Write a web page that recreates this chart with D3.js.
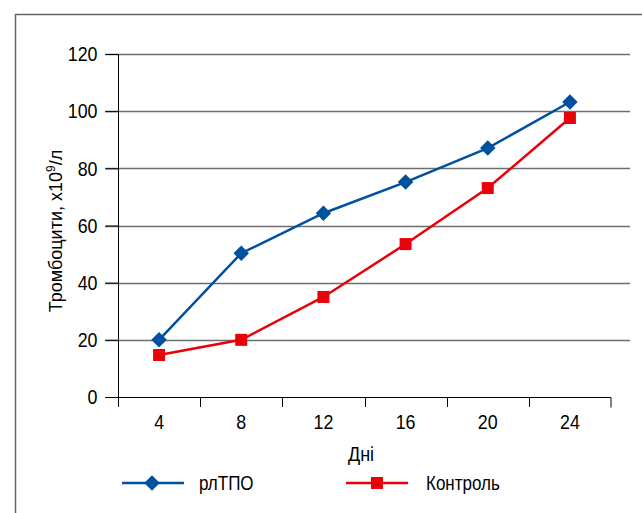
<!DOCTYPE html>
<html><head><meta charset="utf-8">
<script src="https://cdn.jsdelivr.net/npm/d3@7"></script>
<style>body{margin:0;background:#fff;} svg{display:block;}</style>
</head><body>
<svg id="c" width="642" height="513"></svg>
<script>
const days = ["4","8","12","16","20","24"];
const rlTPO = [20, 50.3, 64.3, 75.2, 87.1, 103.2];
const control = [14.7, 20, 35, 53.5, 73.1, 97.6];
const yTicks = [0,20,40,60,80,100,120];
const seriesNames = ["рлТПО","Контроль"];

const FONT = "'Liberation Sans',Arial,sans-serif";
const SX = 0.85;
const svg = d3.select("#c");
svg.append("rect").attr("x",15.5).attr("y",14.5).attr("width",700).attr("height",600)
  .attr("fill","none").attr("stroke","#666").attr("stroke-width",1.5);

const x = d3.scaleBand().domain(days).range([118,611]);
const y = d3.scaleLinear().domain([0,120]).range([397,54]);

// gridlines
svg.append("g").selectAll("line").data(yTicks.filter(d=>d>0)).join("line")
  .attr("x1",105).attr("x2",630).attr("y1",d=>Math.round(y(d))+0.5).attr("y2",d=>Math.round(y(d))+0.5)
  .attr("stroke","#6e6e6e").attr("stroke-width",1.3);

// y axis
const ya = svg.append("g").attr("transform","translate(118.5,0)")
  .call(d3.axisLeft(y).tickValues(yTicks).tickSize(13).tickPadding(8));
ya.select(".domain").remove();
ya.selectAll(".tick line").attr("stroke","#000");
ya.selectAll("text").attr("font-family",FONT).attr("font-size",21).attr("fill","#000")
  .attr("x",-21/SX).attr("transform",`scale(${SX},1)`);
svg.append("line").attr("x1",118.5).attr("x2",118.5).attr("y1",54).attr("y2",407).attr("stroke","#000");

// x axis
const xa = svg.append("g").attr("transform","translate(0,397.5)")
  .call(d3.axisBottom(x).tickSize(0).tickPadding(17));
xa.select(".domain").attr("stroke","#000").attr("d","M105,0H611V10");
xa.selectAll("text").attr("font-family",FONT).attr("font-size",21).attr("fill","#000")
  .attr("transform",`scale(${SX},1)`);
svg.append("g").selectAll("line").data(days).join("line")
  .attr("x1",d=>Math.round(x(d))+0.5).attr("x2",d=>Math.round(x(d))+0.5)
  .attr("y1",397).attr("y2",407).attr("stroke","#000");

// axis titles
svg.append("text").attr("transform","translate(361,461) scale(0.9,1)").attr("text-anchor","middle")
  .attr("font-family",FONT).attr("font-size",20).text("Дні");
svg.append("text").attr("transform","translate(62,231) rotate(-90)").attr("text-anchor","middle")
  .attr("font-family",FONT).attr("font-size",18)
  .html("Тромбоцити, x10<tspan dy='-7' font-size='12'>9</tspan><tspan dy='7'>/л</tspan>");

const cx = d => x(d) + x.bandwidth()/2;
const line = d3.line().x((d,i)=>cx(days[i])).y(d=>y(d));
const diamondPath = d3.symbol().type(d3.symbolSquare).size(120);

// Control series
svg.append("path").datum(control).attr("d",line).attr("fill","none").attr("stroke","#e8000b").attr("stroke-width",2.5);
svg.append("g").selectAll("rect").data(control).join("rect")
  .attr("x",(d,i)=>cx(days[i])-6).attr("y",d=>y(d)-6).attr("width",12).attr("height",12).attr("fill","#e8000b");

// rlTPO series
svg.append("path").datum(rlTPO).attr("d",line).attr("fill","none").attr("stroke","#0050a0").attr("stroke-width",2.5);
svg.append("g").selectAll("path").data(rlTPO).join("path")
  .attr("transform",(d,i)=>`translate(${cx(days[i])},${y(d)}) rotate(45)`)
  .attr("d",diamondPath).attr("fill","#0050a0");

// legend
const lg = svg.append("g");
lg.append("line").attr("x1",122).attr("x2",184).attr("y1",483).attr("y2",483).attr("stroke","#0050a0").attr("stroke-width",2.5);
lg.append("path").attr("transform","translate(152,483) rotate(45)").attr("d",diamondPath).attr("fill","#0050a0");
lg.append("text").attr("transform",`translate(199,490) scale(${SX},1)`).attr("font-family",FONT).attr("font-size",20).text(seriesNames[0]);
lg.append("line").attr("x1",346).attr("x2",408).attr("y1",483).attr("y2",483).attr("stroke","#e8000b").attr("stroke-width",2.5);
lg.append("rect").attr("x",371).attr("y",477).attr("width",12).attr("height",12).attr("fill","#e8000b");
lg.append("text").attr("transform",`translate(426,490) scale(${SX},1)`).attr("font-family",FONT).attr("font-size",20).text(seriesNames[1]);
</script>
</body></html>
